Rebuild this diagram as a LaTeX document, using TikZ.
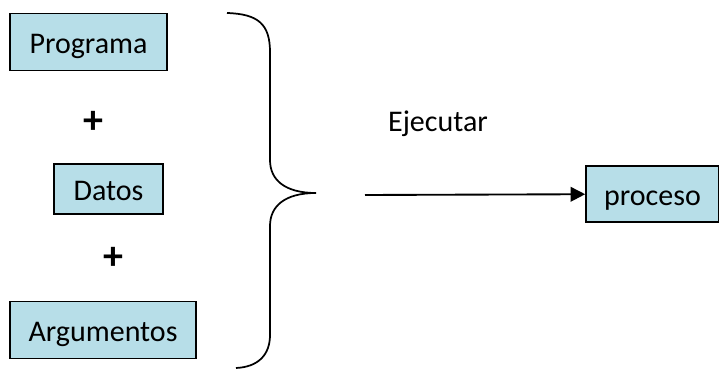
\documentclass[tikz,border=0pt]{standalone}
\usepackage{fontspec}
\setmainfont{Carlito}
\usetikzlibrary{arrows.meta}

\definecolor{boxfill}{HTML}{B7DEE8}

\tikzset{
	caja/.style={draw=black, line width=1.2pt, fill=boxfill, inner sep=0pt,
		text height=17pt, text depth=0pt,
		font=\fontsize{22.5}{27}\selectfont},
	texto/.style={font=\fontsize{22.5}{27}\selectfont},
	signo/.style={font=\fontsize{30}{36}\selectfont\bfseries},
}

\begin{document}
\begin{tikzpicture}[x=0.75pt, y=-0.75pt]
	\useasboundingbox (0,0) rectangle (719,370);
	% entradas
	\node[caja, minimum width=117.75pt, minimum height=42.75pt] (prog) at (88.5,42){Programa};
	\node[signo] (mas1) at (93,122){+};
	\node[caja, minimum width=81.75pt, minimum height=37.5pt] (datos) at (108.5,189){Datos};
	\node[signo] (mas2) at (113,258){+};
	\node[caja, minimum width=139.5pt, minimum height=42.75pt] (args) at (103,330){Argumentos};
	% llave
	\coordinate (b1) at (227,13);
	\coordinate (pico) at (316,193);
	\coordinate (b2) at (236,368);
	\draw [line width=1.3pt] (b1) .. controls (258,14) and (270,24) .. (270,52) -- (270,160)
		.. controls (270,180) and (285,193) .. (pico)
		.. controls (285,193) and (270,206) .. (270,226) -- (270,335)
		.. controls (270,355) and (258,367) .. (b2);
	% salida
	\node[caja, minimum width=99.75pt, minimum height=42pt] (proc) at (652.5,194){proceso};
	\node[texto] (ejec) at (438,124){Ejecutar};
	\coordinate (ini) at (365,195);
	\draw [-{Triangle[length=11pt, width=11pt]}, line width=1.4pt] (ini) -- (proc);
\end{tikzpicture}
\end{document}
